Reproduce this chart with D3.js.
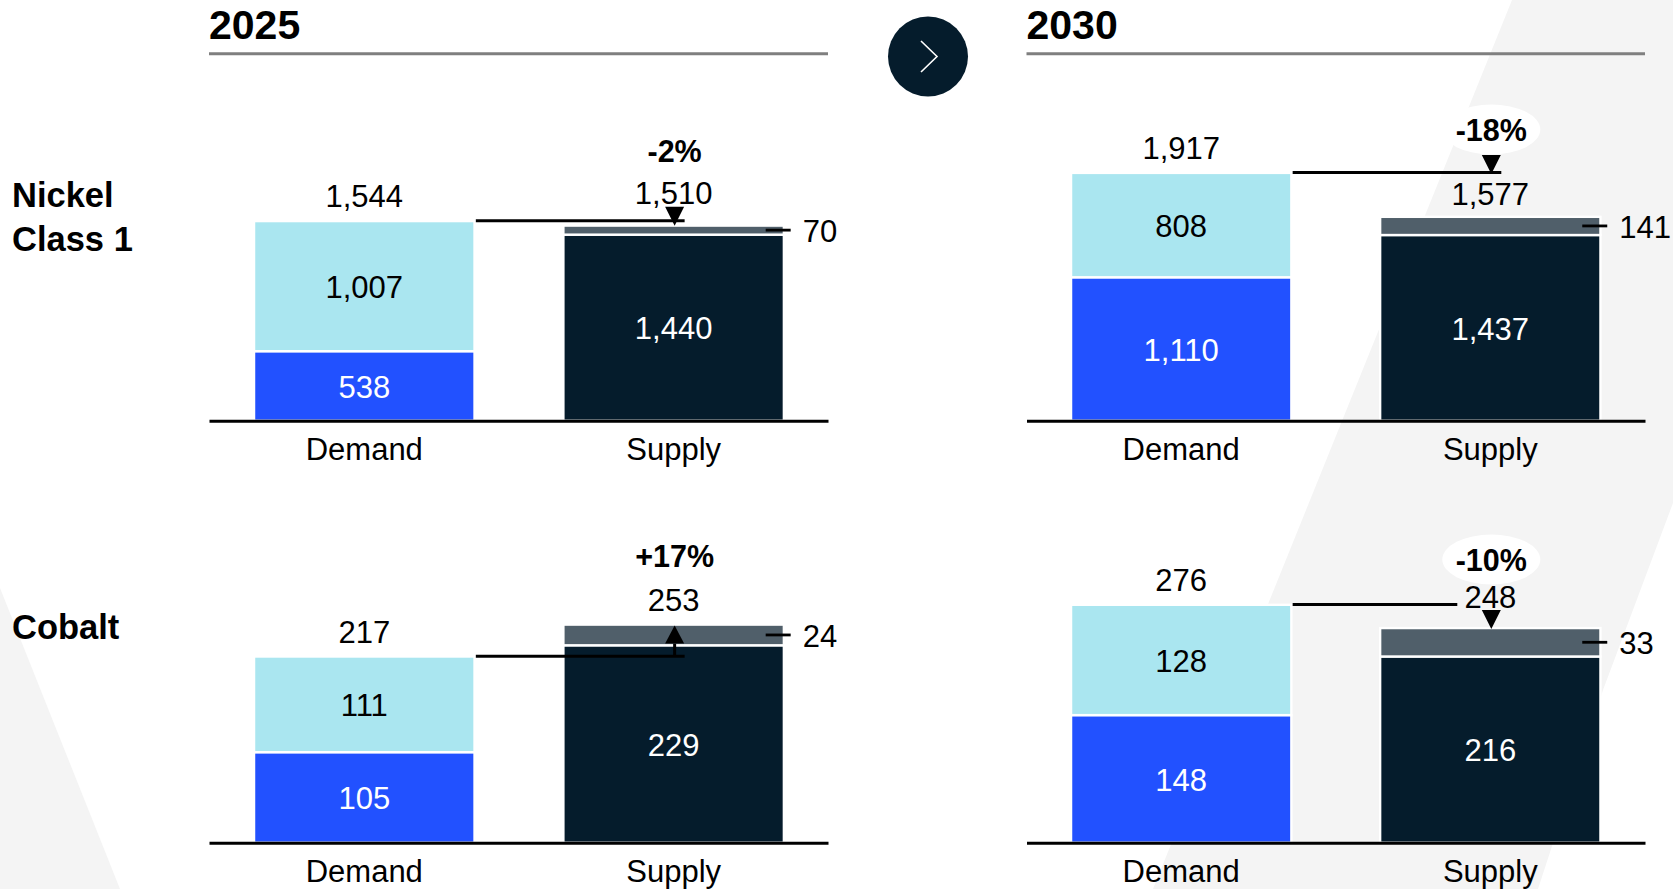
<!DOCTYPE html>
<html><head><meta charset="utf-8">
<script src="https://cdn.jsdelivr.net/npm/d3@7"></script>
<style>html,body{margin:0;padding:0;background:#fff;overflow:hidden}svg{display:block}text{font-family:"Liberation Sans",Arial,sans-serif}</style>
</head><body><svg id="c" width="1673" height="889"></svg>
<script>
const categories = ["Demand", "Supply"];
const years = ["2025", "2030"];
const rowNames = [["Nickel", "Class 1"], ["Cobalt"]];
const nickelDemandLower = [538, 1110];
const nickelDemandUpper = [1007, 808];
const nickelSupplyLower = [1440, 1437];
const nickelSupplyUpper = [70, 141];
const nickelDemandTotal = [1544, 1917];
const nickelSupplyTotal = [1510, 1577];
const nickelGap = ["-2%", "-18%"];
const cobaltDemandLower = [105, 148];
const cobaltDemandUpper = [111, 128];
const cobaltSupplyLower = [229, 216];
const cobaltSupplyUpper = [24, 33];
const cobaltDemandTotal = [217, 276];
const cobaltSupplyTotal = [253, 248];
const cobaltGap = ["+17%", "-10%"];

const colors = {lower:"#2251ff", upper:"#aae6f0", supply:"#051c2c", supply2:"#505f6a", bg:"#f4f4f4"};
const fmt = d3.format(",");
const svg = d3.select("#c");

// background shapes
const bgG = svg.append("g").attr("fill", colors.bg);
bgG.append("path").attr("d","M1512,0L1673,0L1673,503L1603,690L1538,889L1153,889Z");
bgG.append("path").attr("d","M0,588L120,889L0,889Z");

const columnRanges = [[209,828],[1026.5,1645]];
const columnAlign = [0.505,0.5];
const rowGeom = [{base:420.7, h:258.4, max:2000},{base:842.7, h:258.6, max:300}];
const sw = 2.4;
const dy = "0.38em";

function panel(col, row, d){
  const x = d3.scaleBand().domain(categories).range(columnRanges[col]).paddingInner(0.295).paddingOuter(0.148).align(columnAlign[col]);
  const g = rowGeom[row];
  const y = d3.scaleLinear().domain([0,g.max]).range([g.base,g.base-g.h]);
  const root = svg.append("g");
  const bw = x.bandwidth();
  const cx = c => x(c)+bw/2;

  const segs = [
    {c:"Demand",y0:0,y1:d.dl,fill:colors.lower,tc:"#fff",v:d.dl},
    {c:"Demand",y0:d.dl,y1:d.dl+d.du,fill:colors.upper,tc:"#000",v:d.du},
    {c:"Supply",y0:0,y1:d.sl,fill:colors.supply,tc:"#fff",v:d.sl},
    {c:"Supply",y0:d.sl,y1:d.sl+d.su,fill:colors.supply2,tc:null,v:d.su}
  ];
  root.selectAll("rect").data(segs).join("rect")
    .attr("x",s=>x(s.c)-sw/2).attr("width",bw+sw)
    .attr("y",s=>y(s.y1)).attr("height",s=>y(s.y0)-y(s.y1))
    .attr("fill",s=>s.fill).attr("stroke","#fff").attr("stroke-width",sw);

  root.selectAll("text.seg").data(segs.filter(s=>s.tc)).join("text").attr("class","seg")
    .attr("x",s=>cx(s.c)).attr("y",s=>(y(s.y0)+y(s.y1))/2).attr("dy",dy)
    .attr("text-anchor","middle").attr("font-size",31).attr("fill",s=>s.tc).text(s=>fmt(s.v));

  // axis
  const ax = root.append("g").attr("transform",`translate(0,${g.base})`)
    .call(d3.axisBottom(x).tickSize(0).tickPadding(17));
  ax.select(".domain").attr("stroke","#000").attr("stroke-width",3);
  ax.selectAll("text").attr("font-size",31).attr("fill","#000").attr("font-family",'"Liberation Sans",Arial,sans-serif');

  // totals
  const dTop = y(d.dl+d.du), sTop = y(d.sl+d.su);
  root.append("text").attr("x",cx("Demand")).attr("y",dTop-25.5).attr("dy",dy).attr("text-anchor","middle").attr("font-size",31).text(fmt(d.dTotal));
  root.append("text").attr("x",cx("Supply")).attr("y",sTop-d.sOff).attr("dy",dy).attr("text-anchor","middle").attr("font-size",31).text(fmt(d.sTotal));

  // small-segment leader and label
  const right = x("Supply")+bw;
  const gy = (y(d.sl)+y(d.sl+d.su))/2;
  root.append("line").attr("x1",right-17).attr("x2",right+8).attr("y1",gy).attr("y2",gy).attr("stroke","#000").attr("stroke-width",2.8);
  root.append("text").attr("x",right+20).attr("y",gy).attr("dy",dy).attr("font-size",31).text(fmt(d.su));

  // gap connector
  const ax0 = x("Demand")+bw+2.5;
  const arrowX = cx("Supply")+1;
  const ly = dTop-0.3;
  const lx2 = d.lineEnd!==undefined ? cx("Supply")+d.lineEnd : arrowX+10;
  root.append("line").attr("x1",ax0).attr("x2",lx2).attr("y1",ly).attr("y2",ly).attr("stroke","#000").attr("stroke-width",3);
  if(d.up){
    const tip = sTop+1, base=tip+18;
    root.append("path").attr("d",`M${arrowX},${tip}L${arrowX+9.5},${base}L${arrowX-9.5},${base}Z`).attr("fill","#000");
    root.append("line").attr("x1",arrowX).attr("x2",arrowX).attr("y1",base).attr("y2",ly).attr("stroke","#000").attr("stroke-width",3);
  } else {
    const tip = d.tip===undefined ? sTop+1 : ly+d.tip, base=tip-19;
    root.append("path").attr("d",`M${arrowX},${tip}L${arrowX+9.5},${base}L${arrowX-9.5},${base}Z`).attr("fill","#000");
  }
  // percent bubble
  root.append("ellipse").attr("cx",arrowX).attr("cy",d.pctY).attr("rx",49).attr("ry",25).attr("fill","#fff");
  root.append("text").attr("x",arrowX).attr("y",d.pctY).attr("dy",dy).attr("text-anchor","middle").attr("font-size",30.5).attr("font-weight","bold").text(d.pct);
}

panel(0,0,{dl:nickelDemandLower[0],du:nickelDemandUpper[0],sl:nickelSupplyLower[0],su:nickelSupplyUpper[0],dTotal:nickelDemandTotal[0],sTotal:nickelSupplyTotal[0],pct:nickelGap[0],sOff:33,pctY:150.7,tip:5});
panel(1,0,{dl:nickelDemandLower[1],du:nickelDemandUpper[1],sl:nickelSupplyLower[1],su:nickelSupplyUpper[1],dTotal:nickelDemandTotal[1],sTotal:nickelSupplyTotal[1],pct:nickelGap[1],sOff:24,pctY:129.5,tip:1.5});
panel(0,1,{dl:cobaltDemandLower[0],du:cobaltDemandUpper[0],sl:cobaltSupplyLower[0],su:cobaltSupplyUpper[0],dTotal:cobaltDemandTotal[0],sTotal:cobaltSupplyTotal[0],pct:cobaltGap[0],sOff:25,pctY:555.5,up:true});
panel(1,1,{dl:cobaltDemandLower[1],du:cobaltDemandUpper[1],sl:cobaltSupplyLower[1],su:cobaltSupplyUpper[1],dTotal:cobaltDemandTotal[1],sTotal:cobaltSupplyTotal[1],pct:cobaltGap[1],sOff:32,pctY:559.5,lineEnd:-33});

// column headers
years.forEach((yr,i)=>{
  const [a,b]=columnRanges[i];
  svg.append("text").attr("x",a).attr("y",25).attr("dy","0.35em").attr("font-size",41).attr("font-weight","bold").text(yr);
  svg.append("line").attr("x1",a).attr("x2",b).attr("y1",53.7).attr("y2",53.7).attr("stroke","#7f7f7f").attr("stroke-width",3);
});

// row labels
[[193.5,237.5],[625.5]].forEach((ys,r)=>ys.forEach((yy,i)=>{
  svg.append("text").attr("x",12).attr("y",yy).attr("dy",dy).attr("font-size",34.5).attr("font-weight","bold").text(rowNames[r][i]);
}));

// circle chevron
svg.append("circle").attr("cx",928).attr("cy",56.5).attr("r",40).attr("fill",colors.supply);
svg.append("path").attr("d","M921,41L937,56.5L921,72").attr("fill","none").attr("stroke","#fff").attr("stroke-width",1.6);
</script></body></html>
